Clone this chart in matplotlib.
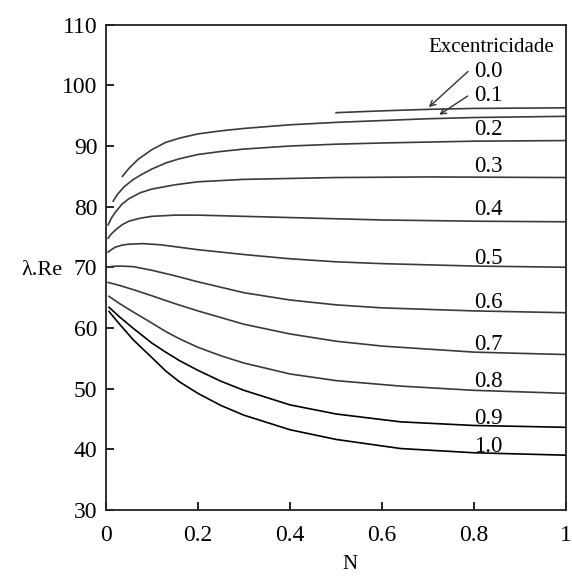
import numpy as np
import matplotlib.pyplot as plt

plt.rcParams['font.family'] = ['Liberation Serif', 'DejaVu Serif']

# curves: N values and lambda.Re values
n_00 = [0.50, 0.60, 0.70, 0.80, 1.00]
v_00 = [95.5, 95.8, 96.05, 96.2, 96.3]

n_01 = [0.036, 0.05, 0.07, 0.10, 0.13, 0.16, 0.20, 0.25, 0.30, 0.40, 0.50, 0.60, 0.70, 0.80, 0.90, 1.00]
v_01 = [85.0, 86.3, 87.8, 89.4, 90.6, 91.3, 92.0, 92.5, 92.9, 93.5, 93.9, 94.2, 94.5, 94.7, 94.8, 94.9]

n_02 = [0.016, 0.025, 0.04, 0.06, 0.08, 0.10, 0.13, 0.16, 0.20, 0.25, 0.30, 0.40, 0.50, 0.60, 0.80, 1.00]
v_02 = [80.9, 82.0, 83.3, 84.5, 85.4, 86.2, 87.2, 87.9, 88.6, 89.1, 89.5, 90.0, 90.3, 90.5, 90.8, 90.9]

n_03 = [0.005, 0.012, 0.02, 0.035, 0.05, 0.075, 0.10, 0.15, 0.20, 0.30, 0.50, 0.70, 1.00]
v_03 = [77.0, 78.1, 79.0, 80.4, 81.3, 82.3, 82.9, 83.6, 84.1, 84.5, 84.8, 84.9, 84.8]

n_04 = [0.005, 0.012, 0.02, 0.035, 0.05, 0.075, 0.10, 0.15, 0.20, 0.30, 0.40, 0.50, 0.60, 0.80, 1.00]
v_04 = [74.8, 75.5, 76.1, 77.0, 77.6, 78.1, 78.4, 78.6, 78.6, 78.4, 78.2, 78.0, 77.8, 77.6, 77.5]

n_05 = [0.005, 0.012, 0.02, 0.035, 0.05, 0.08, 0.12, 0.16, 0.20, 0.30, 0.40, 0.50, 0.60, 0.80, 1.00]
v_05 = [72.5, 72.9, 73.3, 73.65, 73.8, 73.9, 73.7, 73.3, 72.9, 72.1, 71.4, 70.9, 70.6, 70.2, 70.0]

n_06 = [0.003, 0.015, 0.03, 0.06, 0.10, 0.15, 0.20, 0.25, 0.30, 0.40, 0.50, 0.60, 0.80, 1.00]
v_06 = [70.0, 70.15, 70.2, 70.1, 69.5, 68.6, 67.6, 66.7, 65.8, 64.6, 63.8, 63.3, 62.8, 62.5]

n_07 = [0.005, 0.03, 0.06, 0.10, 0.15, 0.20, 0.25, 0.30, 0.40, 0.50, 0.60, 0.80, 1.00]
v_07 = [67.5, 67.0, 66.3, 65.3, 64.0, 62.8, 61.7, 60.6, 59.0, 57.8, 57.0, 56.0, 55.6]

n_08 = [0.007, 0.03, 0.06, 0.10, 0.13, 0.16, 0.20, 0.25, 0.30, 0.40, 0.50, 0.64, 0.80, 1.00]
v_08 = [65.2, 64.0, 62.6, 60.8, 59.4, 58.2, 56.8, 55.4, 54.2, 52.4, 51.3, 50.4, 49.7, 49.2]

n_09 = [0.007, 0.03, 0.06, 0.10, 0.13, 0.16, 0.20, 0.25, 0.30, 0.40, 0.50, 0.64, 0.80, 1.00]
v_09 = [63.4, 61.8, 59.9, 57.5, 56.0, 54.6, 53.0, 51.2, 49.7, 47.3, 45.8, 44.5, 43.9, 43.6]

n_10 = [0.007, 0.03, 0.06, 0.10, 0.13, 0.16, 0.20, 0.25, 0.30, 0.40, 0.50, 0.64, 0.80, 1.00]
v_10 = [62.7, 60.6, 58.0, 55.1, 52.9, 51.1, 49.2, 47.2, 45.6, 43.2, 41.6, 40.1, 39.4, 39.0]

curve_labels = ['0.0', '0.1', '0.2', '0.3', '0.4', '0.5', '0.6', '0.7', '0.8', '0.9', '1.0']
label_y = [102.3, 98.3, 92.7, 86.6, 79.5, 71.5, 64.2, 57.2, 51.2, 45.1, 40.4]

x_ticks = [0, 0.2, 0.4, 0.6, 0.8, 1]
x_tick_labels = ['0', '0.2', '0.4', '0.6', '0.8', '1']
y_ticks = [30, 40, 50, 60, 70, 80, 90, 100, 110]


def main():
    fig = plt.figure(figsize=(5.72, 5.76), dpi=100)
    ax = fig.add_axes([0.185, 0.115, 0.805, 0.842])

    curves = [(n_00, v_00), (n_01, v_01), (n_02, v_02), (n_03, v_03),
              (n_04, v_04), (n_05, v_05), (n_06, v_06), (n_07, v_07),
              (n_08, v_08), (n_09, v_09), (n_10, v_10)]
    for i, (n, v) in enumerate(curves):
        col = 'black' if i >= 9 else '#3a3a3a'
        ax.plot(n, v, color=col, linewidth=1.2, solid_joinstyle='round')

    # labels of each curve
    ax.text(0.838, 106.2, 'Excentricidade', ha='center', va='center', fontsize=15)
    for lab, ly in zip(curve_labels, label_y):
        ax.text(0.83, ly, lab, ha='center', va='center', fontsize=16.5)

    # arrows for 0.0 and 0.1
    ax.annotate('', xy=(0.697, 96.1), xytext=(0.791, 102.6),
                arrowprops=dict(arrowstyle='->', color='#333333', lw=1.0))
    ax.annotate('', xy=(0.719, 94.9), xytext=(0.791, 98.5),
                arrowprops=dict(arrowstyle='->', color='#333333', lw=1.0))

    ax.set_xlim(0, 1)
    ax.set_ylim(30, 110)
    ax.set_xticks(x_ticks)
    ax.set_xticklabels(x_tick_labels)
    ax.set_yticks(y_ticks)
    ax.tick_params(direction='in', length=6, width=1.2, labelsize=17,
                   top=False, right=False)
    ax.tick_params(axis='x', pad=11)
    ax.tick_params(axis='y', pad=6)
    for s in ax.spines.values():
        s.set_linewidth(1.3)
        s.set_color('#222222')

    # axis titles
    fig.text(0.612, 0.02, 'N', fontsize=15, ha='center', va='center')
    fig.text(0.073, 0.53, 'λ.Re', fontsize=16, ha='center', va='center')

    fig.savefig('out.png', dpi=100)


if __name__ == "__main__":
    main()
